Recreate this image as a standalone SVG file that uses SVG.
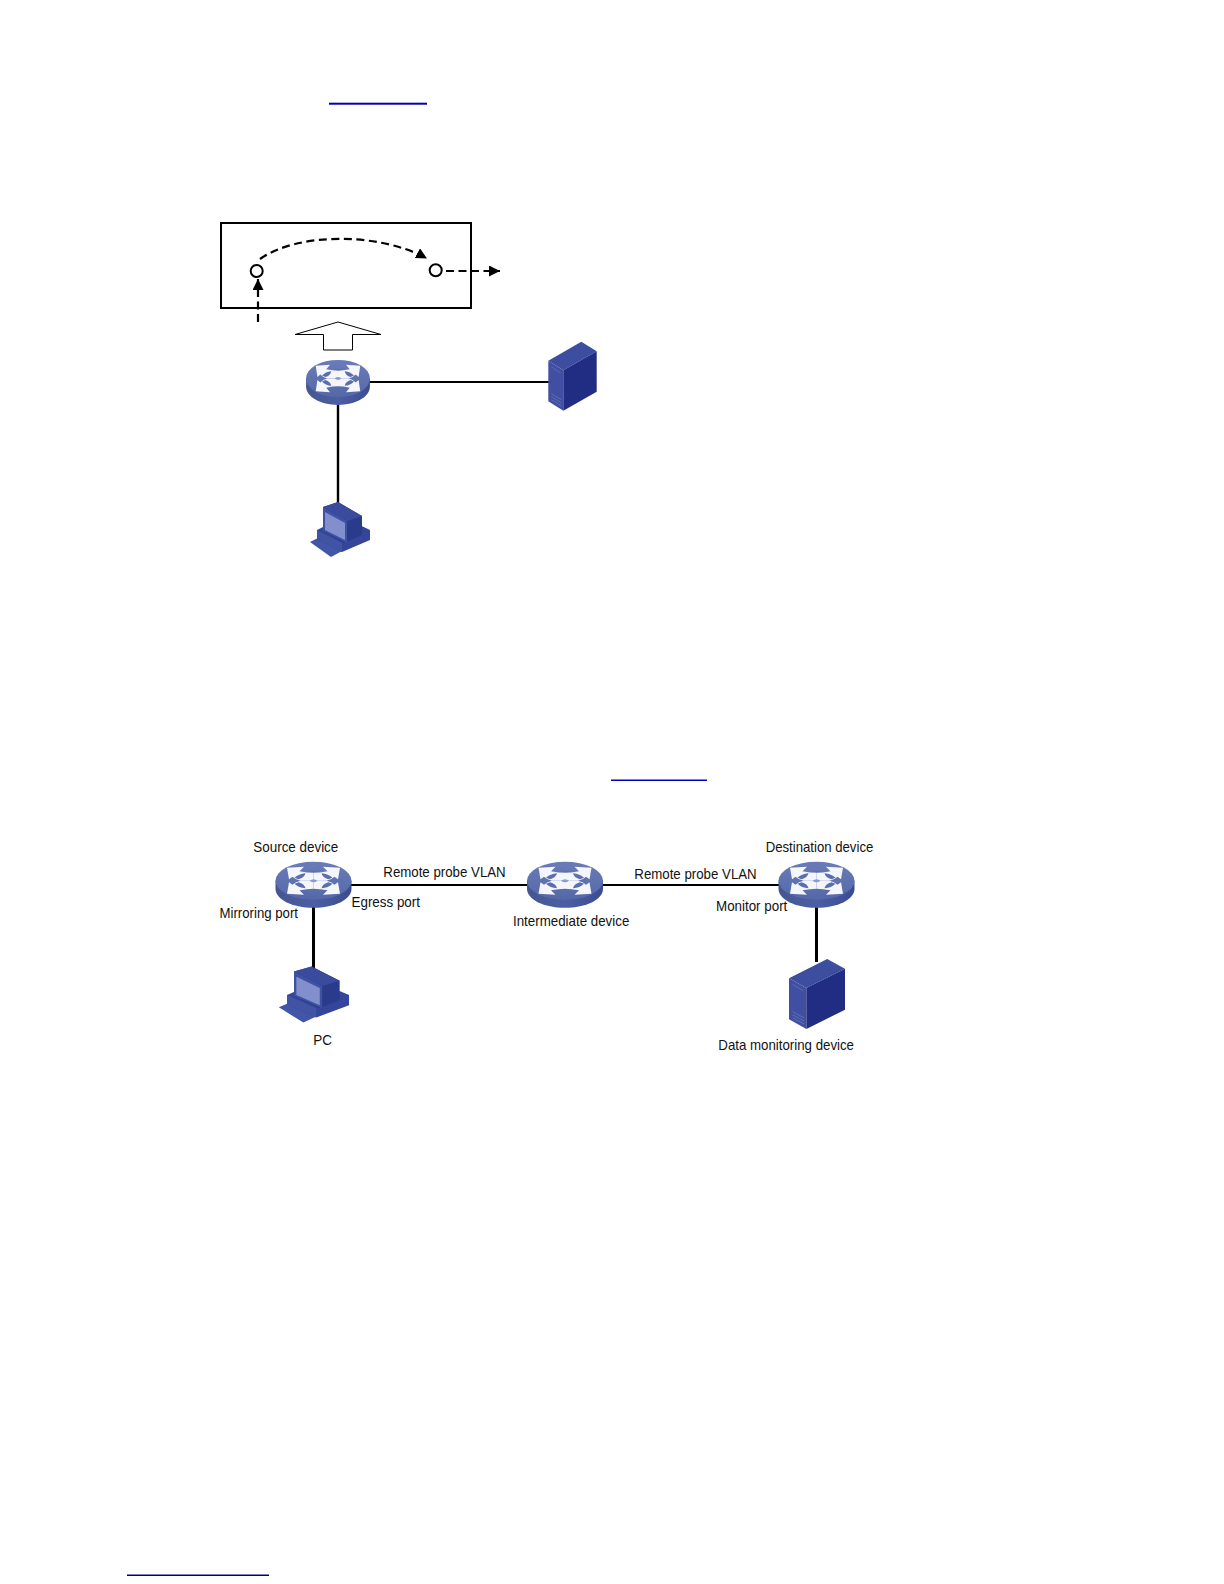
<svg xmlns="http://www.w3.org/2000/svg" xmlns:xlink="http://www.w3.org/1999/xlink" width="1224" height="1584" viewBox="0 0 1224 1584">
<style>
text{font-family:"Liberation Sans",Arial,sans-serif;font-size:15px;fill:#111}
.ln{stroke:#000;stroke-width:2;fill:none}
.thick{stroke:#000;stroke-width:3;fill:none}
.dash{stroke:#000;stroke-width:2.200;fill:none;stroke-dasharray:8 4.500}
</style>
<defs>
<marker id="tip" markerUnits="userSpaceOnUse" markerWidth="12" markerHeight="12" refX="11" refY="5.500" orient="auto"><path d="M0 0L11 5.500L0 11Z" fill="#000"/></marker>
<linearGradient id="swTop" x1="0" y1="0" x2="0" y2="1"><stop offset="0" stop-color="#6a7cb8"/><stop offset="1" stop-color="#5468a8"/></linearGradient>
<linearGradient id="swSide" x1="0" y1="0" x2="1" y2="0"><stop offset="0" stop-color="#44568f"/><stop offset="0.500" stop-color="#4c5fa5"/><stop offset="1" stop-color="#3a4b92"/></linearGradient>
<path id="sw-arm" d="M-26.500-13L-9.500-14L-14-9.500Q-6-8 0-8V0H-13Q-18-1-21-4L-24.500-1.500Z" fill="#f4f6fc"/>
<path id="sw-lens" d="M-19-3Q-15-7-8-7.500Q-9-3-15-1.500Z" fill="#5b6eae"/>
<g id="switch">
<path d="M-38 0V8C-38 19-21 27 0 27S38 19 38 8V0Z" fill="url(#swSide)"/>
<ellipse cx="0" cy="0" rx="38" ry="19" fill="url(#swTop)"/>
<use xlink:href="#sw-arm"/>
<use xlink:href="#sw-arm" transform="scale(-1 1)"/>
<use xlink:href="#sw-arm" transform="scale(1 -1)"/>
<use xlink:href="#sw-arm" transform="scale(-1 -1)"/>
<use xlink:href="#sw-lens"/>
<use xlink:href="#sw-lens" transform="scale(-1 1)"/>
<use xlink:href="#sw-lens" transform="scale(1 -1)"/>
<use xlink:href="#sw-lens" transform="scale(-1 -1)"/>
<path d="M-6-11Q1-8 7-11Q1-6-6-11ZM-6 11Q1 8 7 11Q1 6-6 11Z" fill="#5b6eae"/>
<path d="M-4 0Q0-3 4 0Q0 3-4 0Z" fill="#8b9ccb"/>
</g>
<g id="server">
<path d="M0 19L33 0L48.400 9.500L15 28.500Z" fill="#3d4d9f"/>
<path d="M0 19L15 28.500V69L0 59.500Z" fill="#414fa2"/>
<path d="M15 28.500L48.400 9.500V50L15 69Z" fill="#212d82"/>
<path d="M3 52L13 58M3 55L13 61M3 58L13 64" stroke="#6272b5" stroke-width="0.800"/>
<path d="M3 25L12 31" stroke="#5e6fb4" stroke-width="0.800"/>
</g>
<g id="pc">
<path d="M-1 40L7 36L33 48L20 55Z" fill="#4355a6"/>
<path d="M6 28V37L31 50L59 38V28L32 15Z" fill="#34459a"/>
<path d="M6 28L31 41V50L6 37Z" fill="#4153a3"/>
<path d="M12 5L27 0L51 14V33L33 41L12 29Z" fill="#2b3b8c"/>
<path d="M12 5L27 0L51 14L36 19Z" fill="#3a4b9e"/>
<path d="M12 5L36 19V41L12 29Z" fill="#3f51a3"/>
<path d="M14 10L34 21V38L14 28Z" fill="#8190cc"/>
</g>
</defs>

<rect x="329" y="102.700" width="98" height="2" fill="#0000b4"/>
<rect x="611" y="779.500" width="96" height="1.500" fill="#0000b4"/>
<rect x="127" y="1574.500" width="142" height="1.500" fill="#00008c"/>

<g id="connectors">
<line class="ln" x1="369" y1="382" x2="549" y2="382"/>
<line class="ln" x1="338" y1="404" x2="338" y2="503" style="stroke-width:2.400"/>
<line class="dash" x1="258" y1="322" x2="258" y2="279" marker-end="url(#tip)"/>
<path class="dash" d="M260 259C298 232 380 232.500 427 258.500" marker-end="url(#tip)"/>
<line class="dash" x1="446" y1="271" x2="500" y2="271" marker-end="url(#tip)"/>
<line class="ln" x1="350" y1="885" x2="528" y2="885"/>
<line class="ln" x1="602" y1="885" x2="780" y2="885"/>
<line class="thick" x1="313.500" y1="906" x2="313.500" y2="968"/>
<line class="thick" x1="816.500" y1="906" x2="816.500" y2="962"/>
</g>

<g id="device-box">
<rect x="221" y="223" width="250" height="85" fill="none" stroke="#000" stroke-width="2"/>
<circle cx="256.700" cy="271" r="6" fill="#fff" stroke="#000" stroke-width="2"/>
<circle cx="435.700" cy="270.300" r="6" fill="#fff" stroke="#000" stroke-width="2"/>
</g>
<g id="hollow-arrow"><path d="M338 322L295 334.500H323.500V350H352.500V334.500H381Z" fill="#fff" stroke="#000" stroke-width="1"/></g>

<g id="switch-top"><use xlink:href="#switch" transform="translate(338 378.500) scale(0.84 0.98)"/></g>
<g id="server-top"><use xlink:href="#server" transform="translate(548.300 341.700)"/></g>
<g id="pc-top"><use xlink:href="#pc" transform="translate(311 502)"/></g>

<g id="source-device"><use xlink:href="#switch" transform="translate(313.500 880.700)"/><text x="253.300" y="852" textLength="85" lengthAdjust="spacingAndGlyphs">Source device</text></g>
<g id="intermediate-device"><use xlink:href="#switch" transform="translate(565 880.700)"/><text x="513" y="925.700" textLength="116.300" lengthAdjust="spacingAndGlyphs">Intermediate device</text></g>
<g id="destination-device"><use xlink:href="#switch" transform="translate(816.500 880.700)"/><text x="765.700" y="852" textLength="107.600" lengthAdjust="spacingAndGlyphs">Destination device</text></g>
<g id="pc-node"><use xlink:href="#pc" transform="translate(280 966.500) scale(1.170 1.020)"/><text x="313.300" y="1045" textLength="18.700" lengthAdjust="spacingAndGlyphs">PC</text></g>
<g id="data-monitoring-device"><use xlink:href="#server" transform="translate(789 959) scale(1.157 1.014)"/><text x="718.300" y="1050" textLength="135.700" lengthAdjust="spacingAndGlyphs">Data monitoring device</text></g>

<g id="labels">
<text x="383.300" y="877" textLength="122.400" lengthAdjust="spacingAndGlyphs">Remote probe VLAN</text>
<text x="634.300" y="879.300" textLength="122.400" lengthAdjust="spacingAndGlyphs">Remote probe VLAN</text>
<text x="351.500" y="906.500" textLength="68.500" lengthAdjust="spacingAndGlyphs">Egress port</text>
<text x="219.500" y="918" textLength="78.500" lengthAdjust="spacingAndGlyphs">Mirroring port</text>
<text x="716" y="911" textLength="71.300" lengthAdjust="spacingAndGlyphs">Monitor port</text>
</g>
</svg>
